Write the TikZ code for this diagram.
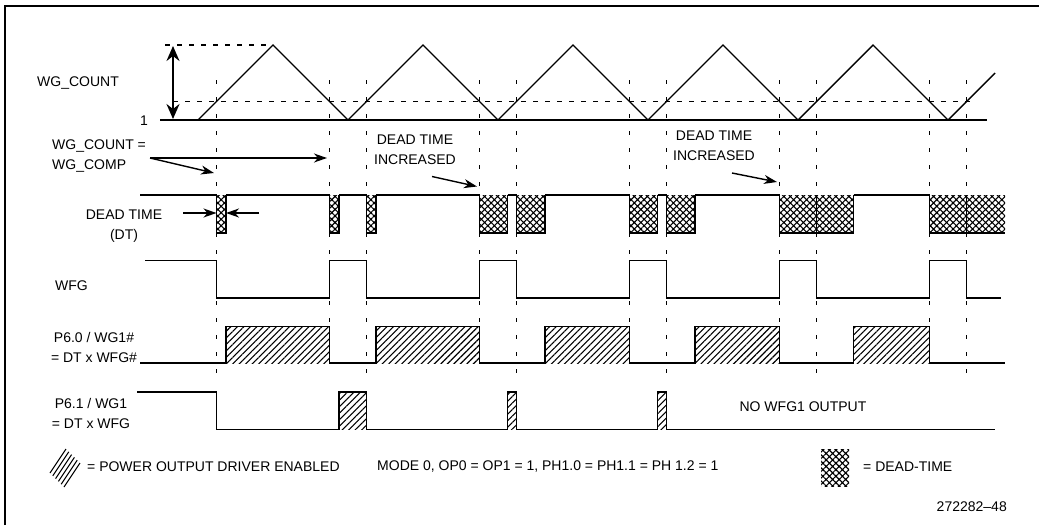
\documentclass[tikz,border=0pt]{standalone}
\usepackage{fontspec}
\setmainfont{Liberation Sans}
\usetikzlibrary{arrows.meta,patterns.meta}

\begin{document}
\begin{tikzpicture}[x=1pt,y=-1pt,
  font=\fontsize{14}{20}\selectfont,
  every node/.style={inner sep=0pt},
  lbl/.style={align=center},
  sig/.style={line width=1.7pt},
  vgrid/.style={line width=1.4pt,dash pattern=on 4pt off 13pt},
  level/.style={line width=1.2pt,dash pattern=on 5pt off 7pt},
  ptr/.style={line width=1.4pt,-{Stealth[length=13pt,width=9pt,inset=4pt]}},
  drv/.style={pattern={Lines[angle=45,distance=4.6pt,line width=1.1pt]}},
  dead/.style={pattern={Hatch[angle=45,distance=4.6pt,line width=1.1pt]}}]
\useasboundingbox (0,0) rectangle (1039,525);
\draw[line width=1.5pt] (5,525) -- (5,6) -- (1039,6);

% WG_COUNT ramp and compare level
\draw[level] (165,45) -- (273,45);
\draw[level] (173,101.5) -- (970,101.5);
\draw[line width=1.4pt] (198,120) \foreach \k in {0,...,4} { -- ++(75,-75) -- ++(75,75) } -- ++(47,-47);
\draw[sig] (160,120) -- (987,120);
\coordinate (cnttop) at (173,46);
\coordinate (cntbot) at (173,119);
\draw[line width=2pt,{Stealth[length=15pt,width=13pt,inset=5pt]}-{Stealth[length=15pt,width=13pt,inset=5pt]}] (cnttop) -- (cntbot);
\node[anchor=west] (cntlbl) at (37,83) {WG\_COUNT};
\node[anchor=east] (one) at (148,121) {1};

% crossing markers
\foreach \k in {0,...,5} \draw[vgrid] (216.5+150*\k,80) -- (216.5+150*\k,382);
\foreach \k in {0,...,4} \draw[vgrid] (329.5+150*\k,80) -- (329.5+150*\k,365);

\node[lbl,align=left,anchor=west] (cmplbl) at (52,156) {WG\_COUNT =\\WG\_COMP};
\coordinate (cmpsrc) at (150,158);
\coordinate (cmpa) at (214,173);
\coordinate (cmpb) at (327,158);
\draw[ptr] (cmpsrc) -- (cmpa);
\draw[ptr] (cmpsrc) -- (cmpb);

\node[lbl] (inca) at (415,150) {DEAD TIME\\INCREASED};
\node[lbl] (incb) at (714,146) {DEAD TIME\\INCREASED};
\coordinate (incas) at (432,176.5);
\coordinate (incae) at (477,186.5);
\coordinate (incbs) at (732,173);
\coordinate (incbe) at (777,182);
\draw[ptr] (incas) -- (incae);
\draw[ptr] (incbs) -- (incbe);

% dead time
\foreach \a/\b in {216.5/226,329.5/339,366.5/376,479.5/507.5,516.5/545,629.5/657.5,666.5/695,779.5/853.5} {
  \fill[dead] (\a,195) rectangle (\b,233);
  \draw[sig] (\a,195) -- (\a,233) -- (\b,233) -- (\b,195);
}
\fill[dead] (929.5,195) rectangle (1005,233);
\draw[sig] (929.5,195) -- (929.5,233) -- (1005,233);
\draw[line width=1pt] (816.5,195) -- (816.5,233) (966.5,195) -- (966.5,233);
\draw[sig] (140,195) -- (216.5,195) (226,195) -- (329.5,195) (339,195) -- (366.5,195)
  (376,195) -- (479.5,195) (507.5,195) -- (516.5,195) (545,195) -- (629.5,195)
  (657.5,195) -- (666.5,195) (695,195) -- (779.5,195) (853.5,195) -- (929.5,195);
\node[lbl] (dtlbl) at (124,226) {DEAD TIME\\(DT)};
\coordinate (dtl) at (183,213);
\coordinate (dtla) at (216.5,213);
\coordinate (dtr) at (259,213);
\coordinate (dtra) at (226,213);
\draw[ptr] (dtl) -- (dtla);
\draw[ptr] (dtr) -- (dtra);

% WFG
\draw[sig] (145,260.5) -| (216.5,298) -| (329.5,260.5) -| (366.5,298) -| (479.5,260.5)
  -| (516.5,298) -| (629.5,260.5) -| (666.5,298) -| (779.5,260.5) -| (816.5,298)
  -| (929.5,260.5) -| (966.5,298) -- (1001,298);
\node[anchor=west] (wfglbl) at (55,286) {WFG};

% P6.0 / WG1#
\foreach \a/\b in {226/329.5,376/479.5,545/629.5,695/779.5,853.5/929.5}
  \fill[drv] (\a,326.5) rectangle (\b,363);
\draw[sig] (140,363) -| (226,326.5) -| (329.5,363) -| (376,326.5) -| (479.5,363)
  -| (545,326.5) -| (629.5,363) -| (695,326.5) -| (779.5,363) -| (853.5,326.5)
  -| (929.5,363) -- (1005,363);
\node[lbl] (p60lbl) at (94,347) {P6.0 / WG1\#\\= DT x WFG\#};

% P6.1 / WG1
\foreach \a/\b in {339/366.5,507.5/516.5,657.5/666.5}
  \fill[drv] (\a,392) rectangle (\b,429.5);
\draw[sig] (137,392) -| (216.5,429.5) -| (339,392) -| (366.5,429.5) -| (507.5,392)
  -| (516.5,429.5) -| (657.5,392) -| (666.5,429.5) -- (995,429.5);
\node[lbl] (p61lbl) at (91,413) {P6.1 / WG1\\= DT x WFG};
\node (nowfg) at (803,407) {NO WFG1 OUTPUT};

% legend
\foreach \i in {0,...,5} \draw[line width=1.1pt] (50+2.8*\i,473+2.8*\i) -- ++(16,-24);
\node[anchor=west] (drvtxt) at (87,467) {= POWER OUTPUT DRIVER ENABLED};
\node[anchor=west] (mode) at (377,467) {MODE 0, OP0 = OP1 = 1, PH1.0 = PH1.1 = PH 1.2 = 1};
\fill[dead] (821,449) rectangle (849,486);
\node[anchor=west] (deadtxt) at (863,467) {= DEAD-TIME};
\node[anchor=east] (fignum) at (1007,507) {272282–48};
\end{tikzpicture}
\end{document}
